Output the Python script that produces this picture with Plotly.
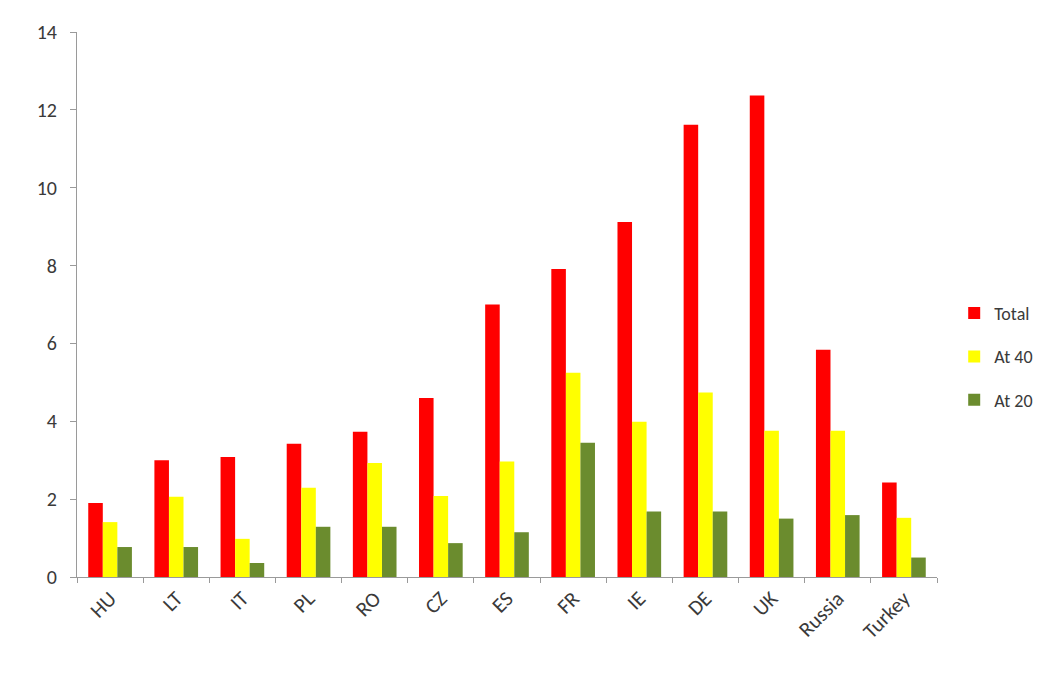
import plotly.graph_objects as go

categories = ["HU", "LT", "IT", "PL", "RO", "CZ", "ES", "FR", "IE", "DE", "UK", "Russia", "Turkey"]
total = [1.9, 3.0, 3.08, 3.42, 3.73, 4.6, 7.0, 7.91, 9.12, 11.62, 12.37, 5.84, 2.43]
at40 = [1.41, 2.06, 0.98, 2.29, 2.93, 2.08, 2.97, 5.25, 3.99, 4.74, 3.76, 3.76, 1.52]
at20 = [0.77, 0.77, 0.36, 1.29, 1.29, 0.87, 1.15, 3.45, 1.68, 1.68, 1.50, 1.59, 0.50]
y_ticks = [0, 2, 4, 6, 8, 10, 12, 14]

font_family = "Carlito, Lato, 'Open Sans', sans-serif"

fig = go.Figure()
series = [("Total", total, "#FF0000"), ("At 40", at40, "#FFFF00"), ("At 20", at20, "#6B8C2E")]
for i, (name, vals, col) in enumerate(series):
    fig.add_trace(go.Bar(x=categories, y=vals, name=name, marker_color=col,
                         marker_line_width=0, legendgroup=str(i)))

fig.update_layout(
    width=1050, height=690,
    margin=dict(l=77, r=105, t=32, b=113),
    paper_bgcolor="white", plot_bgcolor="white",
    barmode="group", bargap=0.34, bargroupgap=0,
    font=dict(family=font_family, size=18, color="#3a3a3a"),
    legend=dict(x=1.02, y=0.404, xanchor="left", yanchor="middle",
                traceorder="grouped", tracegroupgap=17,
                font=dict(size=18, color="#3a3a3a"), bgcolor="rgba(0,0,0,0)"),
    xaxis=dict(showline=True, linecolor="#9a9a9a", linewidth=1,
               ticks="outside", ticklen=5, tickcolor="#9a9a9a",
               tickson="boundaries", tickangle=-45,
               tickfont=dict(size=21, color="#3a3a3a")),
    yaxis=dict(range=[0, 14], tickvals=y_ticks, showline=True, linecolor="#9a9a9a",
               linewidth=1, ticks="outside", ticklen=6, tickcolor="#9a9a9a",
               showgrid=False, zeroline=False, ticklabelstandoff=9,
               tickfont=dict(size=20, color="#3a3a3a")),
)

fig.write_html("out.html")
